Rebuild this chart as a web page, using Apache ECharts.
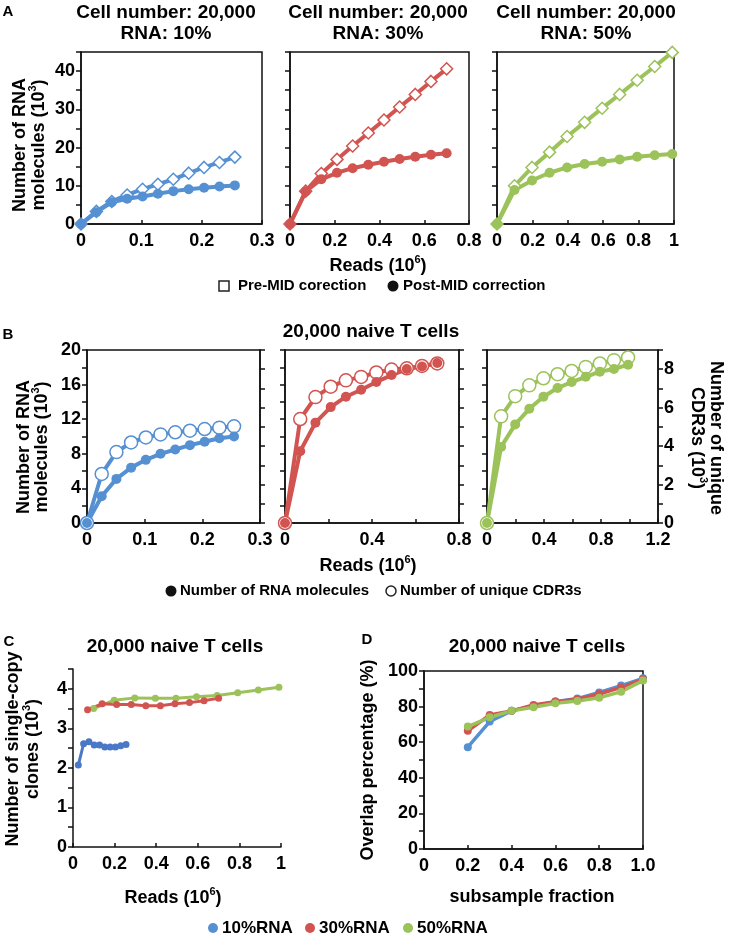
<!DOCTYPE html>
<html><head><meta charset="utf-8">
<script src="https://cdn.jsdelivr.net/npm/echarts@6/dist/echarts.min.js"></script>
<style>html,body{margin:0;padding:0;background:#fff}#c{width:730px;height:936px}</style>
</head><body><div id="c"></div>
<script>
// ---------- Panel A data (Reads 10^6, RNA molecules 10^3) ----------
const a10X = [0,0.0255,0.051,0.0765,0.102,0.1275,0.153,0.1785,0.204,0.2295,0.255];
const a10Pre = [0,3.3,5.9,7.6,9.1,10.4,11.7,13.3,14.8,16.1,17.5];
const a10Post = [0,3.1,5.7,6.6,7.2,7.9,8.6,9.1,9.5,9.8,10.1];
const a30X = [0,0.07,0.14,0.21,0.28,0.35,0.42,0.49,0.56,0.63,0.70];
const a30Pre = [0,8.6,13.2,16.9,20.4,23.8,27.2,30.6,33.9,37.3,40.6];
const a30Post = [0,8.5,11.7,13.4,14.6,15.5,16.3,17.0,17.6,18.1,18.5];
const a50X = [0,0.099,0.198,0.297,0.396,0.495,0.594,0.693,0.792,0.891,0.99];
const a50Pre = [0,10.0,14.8,18.8,22.9,26.6,30.3,33.9,37.6,41.2,44.9];
const a50Post = [0,8.9,11.4,13.4,14.8,15.7,16.3,16.9,17.6,18.0,18.3];
const aTitles = ["Cell number: 20,000\nRNA: 10%","Cell number: 20,000\nRNA: 30%","Cell number: 20,000\nRNA: 50%"];

// ---------- Panel B data ----------
const b10X = [0,0.0255,0.051,0.0765,0.102,0.1275,0.153,0.1785,0.204,0.2295,0.255];
const b10Rna = [0,3.1,5.1,6.4,7.3,8.0,8.5,9.0,9.4,9.8,10.0];
const b10Cdr = [0,2.55,3.69,4.19,4.45,4.61,4.72,4.80,4.89,4.96,5.03];
const b30X = [0,0.07,0.14,0.21,0.28,0.35,0.42,0.49,0.56,0.63,0.70];
const b30Rna = [0,8.3,11.6,13.4,14.6,15.4,16.3,17.1,17.8,18.1,18.5];
const b30Cdr = [0,5.41,6.55,7.09,7.42,7.60,7.83,7.98,8.05,8.17,8.30];
const b50X = [0,0.099,0.198,0.297,0.396,0.495,0.594,0.693,0.792,0.891,0.99];
const b50Rna = [0,8.8,11.4,13.2,14.6,15.6,16.3,16.9,17.5,17.8,18.3];
const b50Cdr = [0,5.55,6.60,7.16,7.53,7.74,7.91,8.12,8.30,8.47,8.61];

// ---------- Panel C data (single-copy clones 10^3) ----------
const c10X = [0.0255,0.051,0.0765,0.102,0.1275,0.153,0.1785,0.204,0.2295,0.255];
const c10 = [2.07,2.61,2.66,2.58,2.58,2.53,2.53,2.53,2.56,2.59];
const c30X = [0.07,0.14,0.21,0.28,0.35,0.42,0.49,0.56,0.63,0.70];
const c30 = [3.47,3.62,3.60,3.60,3.57,3.57,3.62,3.65,3.70,3.76];
const c50X = [0.099,0.198,0.297,0.396,0.495,0.594,0.693,0.792,0.891,0.99];
const c50 = [3.50,3.71,3.77,3.76,3.76,3.80,3.83,3.90,3.97,4.04];

// ---------- Panel D data (overlap %) ----------
const dX = [0.2,0.3,0.4,0.5,0.6,0.7,0.8,0.9,1.0];
const d10 = [57.2,71.6,77.6,80.4,82.8,84.5,87.9,91.8,95.9];
const d30 = [66.4,75.3,77.6,80.9,82.8,84.1,87.1,90.8,95.3];
const d50 = [68.8,74.0,77.6,79.6,81.9,83.2,85.0,88.4,94.6];

const legendLabels = ["10%RNA","30%RNA","50%RNA"];

const BLUE = '#5590D2', RED = '#D25450', GREEN = '#9CC25A', BLUE_C = '#4A78C8';
const FF = '"Liberation Sans", Arial, sans-serif';
const pair = (xs, ys) => xs.map((x, i) => [x, ys[i]]);
const every = (step, fmt) => v => (Math.abs(v / step - Math.round(v / step)) < 1e-6 ? (fmt ? fmt(v) : String(+v.toFixed(4))) : '');
const none = () => '';

const grids = [
  {left:81, top:52, width:181, height:172},   // A1
  {left:290, top:52, width:179, height:172},  // A2
  {left:497, top:52, width:177, height:172},  // A3
  {left:87, top:350, width:173, height:173},  // B1
  {left:285, top:350, width:174, height:173}, // B2
  {left:487, top:350, width:171, height:173}, // B3
  {left:73, top:669, width:208, height:178},  // C
  {left:424, top:671, width:219, height:178}  // D
].map((g, i) => Object.assign({show: i !== 6, borderColor:'#111', borderWidth:1.5, backgroundColor:'transparent', containLabel:false}, g));

const lineStyle = {color:'#111', width:1.5};
function xAx(gi, max, interval, fmt) {
  return {type:'value', gridIndex:gi, min:0, max:max, interval:interval,
    axisLine:{show:true, onZero:false, lineStyle}, axisTick:{show:true, inside:true, length:4, lineStyle},
    splitLine:{show:false},
    axisLabel:{color:'#000', fontWeight:'bold', fontSize:18, fontFamily:FF, margin:8, formatter:fmt}};
}
function yAx(gi, max, interval, fmt, pos) {
  return {type:'value', gridIndex:gi, min:0, max:max, interval:interval, position:pos || 'left',
    axisLine:{show:true, onZero:false, lineStyle}, axisTick:{show:true, inside:false, length:5, lineStyle},
    splitLine:{show:false},
    axisLabel:{color:'#000', fontWeight:'bold', fontSize:18, fontFamily:FF, margin:6, formatter:fmt}};
}

const xAxis = [
  xAx(0, 0.3, 0.1, every(0.1)),
  xAx(1, 0.8, 0.2, every(0.2)),
  xAx(2, 1, 0.2, every(0.2)),
  xAx(3, 0.3, 0.1, every(0.1)),
  xAx(4, 0.8, 0.2, every(0.4)),
  xAx(5, 1.2, 0.2, every(0.4)),
  xAx(6, 1, 0.2, every(0.2)),
  xAx(7, 1, 0.2, v => v === 0 ? '0' : v.toFixed(1))
];
const yAxis = [
  yAx(0, 45, 5, every(10)),       // 0
  yAx(1, 45, 5, none),            // 1
  yAx(2, 45, 5, none),            // 2
  yAx(3, 20, 2, every(4)),        // 3
  yAx(4, 20, 2, none),            // 4
  yAx(5, 20, 2, none),            // 5
  yAx(3, 9, 1, none, 'right'),    // 6
  yAx(4, 9, 1, none, 'right'),    // 7
  yAx(5, 9, 1, every(2), 'right'),// 8
  yAx(6, 4.5, 0.5, every(1)),     // 9
  yAx(7, 100, 10, every(20))      // 10
];

function pre(xi, yi, xs, ys, color) {
  return {type:'line', xAxisIndex:xi, yAxisIndex:yi, data:pair(xs, ys), symbol:'diamond', symbolSize:12,
    lineStyle:{color:color, width:4}, itemStyle:{color:'#fff', borderColor:color, borderWidth:1.5}, silent:true, animation:false};
}
function filled(xi, yi, xs, ys, color, size, width) {
  return {type:'line', xAxisIndex:xi, yAxisIndex:yi, data:pair(xs, ys), symbol:'circle', symbolSize:size,
    lineStyle:{color:color, width:width}, itemStyle:{color:color}, silent:true, animation:false};
}
function open(xi, yi, xs, ys, color) {
  return {type:'line', xAxisIndex:xi, yAxisIndex:yi, data:pair(xs, ys), symbol:'circle', symbolSize:13,
    lineStyle:{color:color, width:4}, itemStyle:{color:'#fff', borderColor:color, borderWidth:1.5}, silent:true, animation:false};
}

const series = [
  pre(0, 0, a10X, a10Pre, BLUE), filled(0, 0, a10X, a10Post, BLUE, 10, 4),
  pre(1, 1, a30X, a30Pre, RED), filled(1, 1, a30X, a30Post, RED, 10, 4),
  pre(2, 2, a50X, a50Pre, GREEN), filled(2, 2, a50X, a50Post, GREEN, 10, 4),
  open(3, 6, b10X, b10Cdr, BLUE), filled(3, 3, b10X, b10Rna, BLUE, 10, 4),
  open(4, 7, b30X, b30Cdr, RED), filled(4, 4, b30X, b30Rna, RED, 10, 4),
  open(5, 8, b50X, b50Cdr, GREEN), filled(5, 5, b50X, b50Rna, GREEN, 10, 4),
  filled(6, 9, c50X, c50, GREEN, 7, 3), filled(6, 9, c30X, c30, RED, 7, 3), filled(6, 9, c10X, c10, BLUE_C, 7, 3),
  filled(7, 10, dX, d10, BLUE, 8, 3.5), filled(7, 10, dX, d30, RED, 8, 3.5), filled(7, 10, dX, d50, GREEN, 8, 3.5)
];

function txt(x, y, text, size, opts) {
  opts = opts || {};
  return {type:'text', x:x, y:y, rotation:opts.rot || 0, silent:true,
    style:{text:text, fill:'#000', font:'bold ' + size + 'px ' + FF, textAlign:opts.align || 'center', textVerticalAlign:'middle'}};
}
// text with superscript exponent: base "(10" + sup + ")"
function supTxt(x, y, before, sup, after, size, opts) {
  opts = opts || {};
  return {type:'text', x:x, y:y, rotation:opts.rot || 0, silent:true,
    style:{text:'{a|' + before + '}{s|' + sup + '}{a|' + after + '}', fill:'#000',
      textAlign:opts.align || 'center', textVerticalAlign:'middle',
      rich:{a:{font:'bold ' + size + 'px ' + FF, fill:'#000', lineHeight:size + 2, verticalAlign:'bottom'},
            s:{font:'bold ' + Math.round(size * 0.6) + 'px ' + FF, fill:'#000', lineHeight:size + 2, verticalAlign:'bottom', padding:[0,0,Math.round(size*0.55),0]}}}};
}
const graphic = [
  txt(8, 12, 'A', 15), txt(8, 335, 'B', 15), txt(9, 642, 'C', 15), txt(367, 640, 'D', 15),
  // A titles
  txt(166, 13, aTitles[0].split('\n')[0], 19), txt(166, 34, aTitles[0].split('\n')[1], 19),
  txt(378, 13, aTitles[1].split('\n')[0], 19), txt(378, 34, aTitles[1].split('\n')[1], 19),
  txt(586, 13, aTitles[2].split('\n')[0], 19), txt(586, 34, aTitles[2].split('\n')[1], 19),
  // A axis names
  txt(20, 145, 'Number of RNA', 18, {rot:Math.PI/2}), supTxt(38, 145, 'molecules (10', '3', ')', 18, {rot:Math.PI/2}),
  supTxt(378, 265, 'Reads (10', '6', ')', 18),
  // A legend
  {type:'rect', shape:{x:219, y:281, width:10, height:10}, style:{fill:'#fff', stroke:'#222', lineWidth:1.5}, silent:true},
  txt(238, 286, 'Pre-MID corection', 15, {align:'left'}),
  {type:'circle', shape:{cx:393, cy:286, r:5.5}, style:{fill:'#111'}, silent:true},
  txt(403, 286, 'Post-MID correction', 15, {align:'left'}),
  // B
  txt(371, 332, '20,000 naive T cells', 19),
  txt(24, 447, 'Number of RNA', 18, {rot:Math.PI/2}), supTxt(41, 447, 'molecules (10', '3', ')', 18, {rot:Math.PI/2}),
  txt(716, 438, 'Number of unique', 18, {rot:-Math.PI/2}), supTxt(698, 438, 'CDR3s (10', '3', ')', 18, {rot:-Math.PI/2}),
  supTxt(368, 565, 'Reads (10', '6', ')', 18),
  {type:'circle', shape:{cx:171, cy:591, r:5.5}, style:{fill:'#111'}, silent:true},
  txt(180, 591, 'Number of RNA molecules', 15, {align:'left'}),
  {type:'circle', shape:{cx:391, cy:591, r:5}, style:{fill:'#fff', stroke:'#222', lineWidth:1.5}, silent:true},
  txt(400, 591, 'Number of unique CDR3s', 15, {align:'left'}),
  // C
  txt(175, 647, '20,000 naive T cells', 19),
  txt(13, 749, 'Number of single-copy', 18, {rot:Math.PI/2}), supTxt(32, 749, 'clones (10', '3', ')', 18, {rot:Math.PI/2}),
  supTxt(173, 897, 'Reads (10', '6', ')', 18),
  // D
  txt(537, 647, '20,000 naive T cells', 19),
  txt(368, 760, 'Overlap percentage (%)', 18, {rot:Math.PI/2}),
  txt(532, 897, 'subsample fraction', 18),
  // bottom legend
  {type:'circle', shape:{cx:213, cy:928, r:5}, style:{fill:BLUE}, silent:true},
  txt(222, 928, legendLabels[0], 17, {align:'left'}),
  {type:'circle', shape:{cx:310, cy:928, r:5}, style:{fill:RED}, silent:true},
  txt(319, 928, legendLabels[1], 17, {align:'left'}),
  {type:'circle', shape:{cx:408, cy:928, r:5}, style:{fill:GREEN}, silent:true},
  txt(417, 928, legendLabels[2], 17, {align:'left'})
];

const chart = echarts.init(document.getElementById('c'), null, {renderer:'canvas'});
chart.setOption({backgroundColor:'#fff', animation:false, grid:grids, xAxis:xAxis, yAxis:yAxis, series:series, graphic:graphic});
</script>
</body></html>
